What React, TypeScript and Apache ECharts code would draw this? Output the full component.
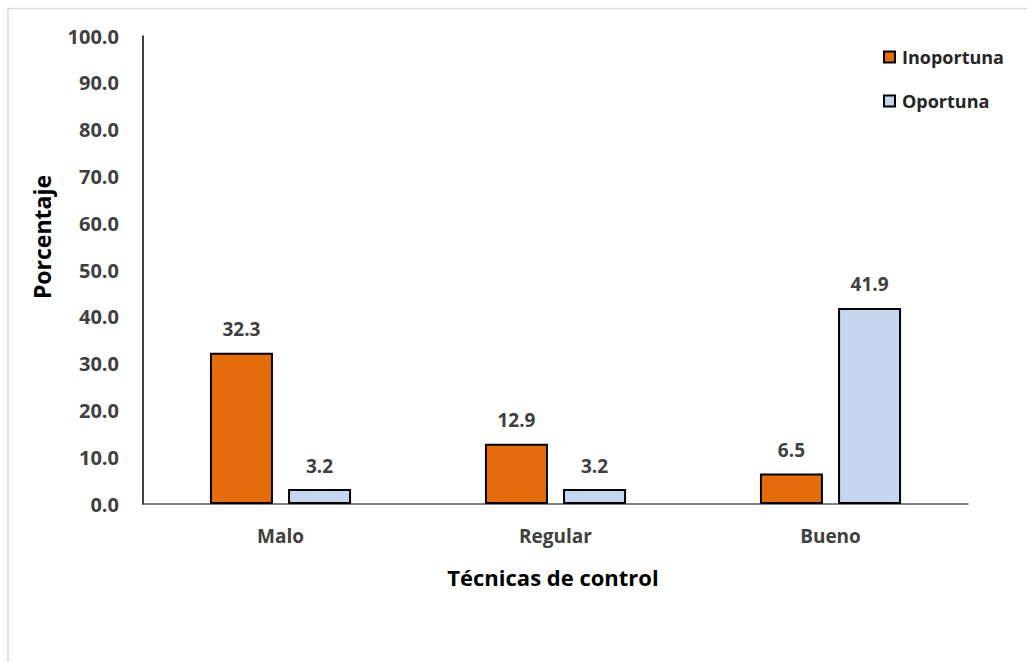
import React, { useEffect, useRef } from "react";
import * as echarts from "echarts";

// Categories on the x axis
const categories = ["Malo", "Regular", "Bueno"];
// Series names and values (percent)
const seriesNames = ["Inoportuna", "Oportuna"];
const inoportuna = [32.3, 12.9, 6.5];
const oportuna = [3.2, 3.2, 41.9];
// Axis titles
const yAxisTitle = "Porcentaje";
const xAxisTitle = "Técnicas de control";

const FONT = "'Open Sans', Lato, sans-serif";

export default function App() {
  const ref = useRef<HTMLDivElement>(null);

  useEffect(() => {
    if (!ref.current) return;
    const chart = echarts.init(ref.current, undefined, { renderer: "svg" });

    const labelStyle = {
      show: true,
      position: "top" as const,
      distance: 14,
      fontFamily: FONT,
      fontWeight: "bold" as const,
      fontSize: 19,
      color: "#404040",
      formatter: (p: any) => Number(p.value).toFixed(1),
    };

    chart.setOption({
      animation: false,
      backgroundColor: "#ffffff",
      textStyle: { fontFamily: FONT },
      grid: { left: 143, right: 59, top: 36, bottom: 158, containLabel: false },
      legend: {
        orient: "vertical",
        left: 878,
        top: 43,
        itemWidth: 11,
        itemHeight: 11,
        itemGap: 26,
        icon: "rect",
        data: seriesNames,
        textStyle: {
          fontFamily: FONT,
          fontSize: 18,
          fontWeight: "bold",
          color: "#262626",
          padding: [0, 0, 0, 2],
        },
      },
      xAxis: {
        type: "category",
        data: categories,
        axisLine: { show: true, lineStyle: { color: "#595959", width: 1.5 } },
        axisTick: { show: false },
        axisLabel: {
          margin: 22,
          fontFamily: FONT,
          fontSize: 19,
          fontWeight: "bold",
          color: "#404040",
        },
      },
      yAxis: {
        type: "value",
        min: 0,
        max: 100,
        interval: 10,
        splitLine: { show: false },
        axisLine: { show: true, lineStyle: { color: "#000000", width: 1.5 } },
        axisTick: { show: false },
        axisLabel: {
          margin: 24,
          fontFamily: FONT,
          fontSize: 20,
          fontWeight: "bold",
          color: "#404040",
          formatter: (v: number) => v.toFixed(1),
        },
      },
      series: [
        {
          name: seriesNames[0],
          type: "bar",
          data: inoportuna,
          barWidth: 63,
          barGap: "24%",
          itemStyle: { color: "#E46C0A", borderColor: "#000000", borderWidth: 2 },
          label: labelStyle,
        },
        {
          name: seriesNames[1],
          type: "bar",
          data: oportuna,
          barWidth: 63,
          itemStyle: { color: "#C6D6F0", borderColor: "#000000", borderWidth: 2 },
          label: labelStyle,
        },
      ],
      graphic: [
        {
          type: "line",
          shape: { x1: 8, y1: 8.5, x2: 1027, y2: 8.5 },
          style: { stroke: "#d9d9d9", lineWidth: 1.5 },
          silent: true,
        },
        {
          type: "line",
          shape: { x1: 8, y1: 8, x2: 8, y2: 662 },
          style: { stroke: "#d9d9d9", lineWidth: 1.5 },
          silent: true,
        },
        {
          type: "text",
          x: 42,
          y: 237,
          rotation: Math.PI / 2,
          style: {
            text: yAxisTitle,
            fontFamily: FONT,
            fontSize: 23,
            fontWeight: "bold",
            fill: "#000000",
            align: "center",
            verticalAlign: "middle",
          },
        },
        {
          type: "text",
          x: 553,
          y: 577,
          style: {
            text: xAxisTitle,
            fontFamily: FONT,
            fontSize: 22,
            fontWeight: "bold",
            fill: "#000000",
            align: "center",
            verticalAlign: "middle",
          },
        },
      ],
    });

    return () => chart.dispose();
  }, []);

  return (
    <div
      ref={ref}
      style={{ position: "fixed", left: 0, top: 0, width: 1027, height: 662, background: "#fff" }}
    />
  );
}
